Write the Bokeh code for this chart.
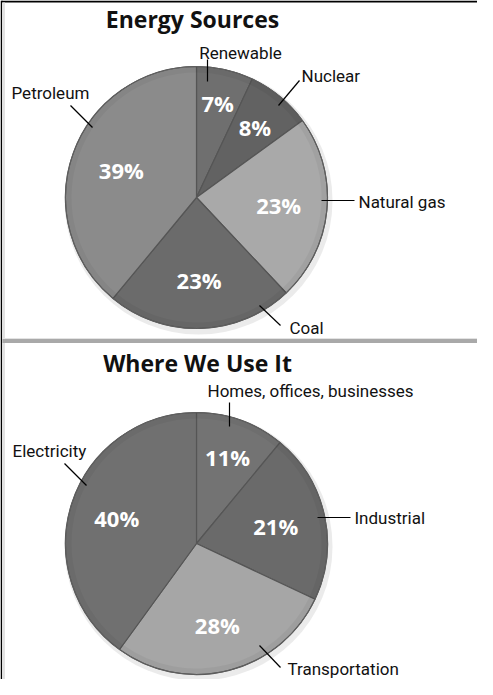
import math
from bokeh.plotting import figure
from bokeh.models import Range1d, ColumnDataSource
from bokeh.core.properties import value
from bokeh.embed import file_html
from bokeh.resources import INLINE

# ---------------- data ----------------
energy_titles = "Energy Sources"
energy_sources = ["Renewable", "Nuclear", "Natural gas", "Coal", "Petroleum"]
energy_pct = [7, 8, 23, 23, 39]
energy_colors = ["#6f6f6f", "#626262", "#a9a9a9", "#6b6b6b", "#8b8b8b"]

use_title = "Where We Use It"
use_names = ["Homes, offices, businesses", "Industrial", "Transportation", "Electricity"]
use_pct = [11, 21, 28, 40]
use_colors = ["#737373", "#6a6a6a", "#a6a6a6", "#707070"]

# ---------------- layout (page pixel coords) ----------------
W, H = 477, 679
X0, Y0 = 8, 8
R = 131

energy_center = (204, 205)
use_center = (204, 551)

energy_pct_r = [0.74, 0.70, 0.63, 0.63, 0.61]
use_pct_r = [0.70, 0.62, 0.64, 0.64]

# (text x, text y, align, leader x0, y0, x1, y1)
energy_lbl = [
    (248, 60, "center", 215, 67, 215, 89),
    (309, 83, "left", 307, 88, 286, 113),
    (366, 209, "left", 329, 208, 362, 208),
    (297, 335, "left", 267, 313, 288, 333),
    (19, 100, "left", 78, 113, 100, 135),
]
use_lbl = [
    (215, 398, "left", 237, 410, 237, 434),
    (362, 525, "left", 325, 525, 358, 525),
    (295, 676, "left", 267, 653, 288, 675),
    (20, 458, "left", 72, 471, 94, 493),
]

p = figure(width=W, height=H, output_backend="svg", toolbar_location=None,
           x_range=Range1d(X0, X0 + W), y_range=Range1d(-(Y0 + H), -Y0),
           min_border=0, background_fill_color="white", border_fill_color="white")
p.axis.visible = False
p.grid.visible = False
p.outline_line_color = None

NAME_FONT = value("Roboto")
BOLD_FONT = value("Open Sans")


def fy(y):
    return -y


def draw_pie(center, names, pcts, colors, pct_r, lbls, title, title_xy):
    cx, cy = center
    total = float(sum(pcts))
    starts, ends, mids = [], [], []
    cum = 0.0
    for v in pcts:
        a0 = cum / total
        cum += v
        a1 = cum / total
        starts.append(math.pi / 2 - a1 * 2 * math.pi)
        ends.append(math.pi / 2 - a0 * 2 * math.pi)
        mids.append(math.pi / 2 - (a0 + a1) / 2 * 2 * math.pi)
    # shadow
    p.circle(x=[cx + 2], y=[fy(cy) - 3], radius=R + 3, fill_color="#e6e6e6",
             line_color=None, fill_alpha=0.8)
    src = ColumnDataSource(dict(start=starts, end=ends, color=colors,
                                x=[cx] * len(pcts), y=[fy(cy)] * len(pcts)))
    p.wedge(x="x", y="y", radius=R, start_angle="start", end_angle="end",
            fill_color="color", line_color="#555555", line_width=1.2, source=src)
    # soft bevel rim
    p.annular_wedge(x="x", y="y", inner_radius=R - 6, outer_radius=R,
                    start_angle="start", end_angle="end", fill_color="black",
                    fill_alpha=0.045, line_color=None, source=src)
    p.circle(x=[cx], y=[fy(cy)], radius=R, fill_color=None,
             line_color="#606060", line_width=1)
    # percent labels
    px = [cx + f * R * math.cos(m) for f, m in zip(pct_r, mids)]
    py = [fy(cy) + f * R * math.sin(m) for f, m in zip(pct_r, mids)]
    p.text(x=px, y=py, text=[f"{v}%" for v in pcts], text_color="white",
           text_font=BOLD_FONT, text_font_style="bold", text_font_size="22px",
           text_align="center", text_baseline="middle")
    # category labels + leaders
    for name, (tx, ty, al, lx0, ly0, lx1, ly1) in zip(names, lbls):
        p.segment(x0=[lx0], y0=[fy(ly0)], x1=[lx1], y1=[fy(ly1)],
                  line_color="black", line_width=1.2)
        p.text(x=[tx], y=[fy(ty)], text=[name], text_color="#111111",
               text_font=NAME_FONT, text_font_size="17px",
               text_align=al, text_baseline="middle")
    # title
    p.text(x=[title_xy[0]], y=[fy(title_xy[1])], text=[title], text_color="#111111",
           text_font=BOLD_FONT, text_font_style="bold", text_font_size="23px",
           text_align="center", text_baseline="middle")


draw_pie(energy_center, energy_sources, energy_pct, energy_colors, energy_pct_r,
         energy_lbl, energy_titles, (200, 26))
draw_pie(use_center, use_names, use_pct, use_colors, use_pct_r,
         use_lbl, use_title, (205, 370))

# panel frame: black top/left border, grey separator
p.segment(x0=[X0 + 1], y0=[fy(Y0 + 1)], x1=[X0 + W], y1=[fy(Y0 + 1)],
          line_color="black", line_width=2)
p.segment(x0=[X0 + 1], y0=[fy(Y0)], x1=[X0 + 1], y1=[fy(Y0 + H)],
          line_color="black", line_width=2)
p.segment(x0=[X0 + 3], y0=[fy(Y0 + 2)], x1=[X0 + 3], y1=[fy(Y0 + H)],
          line_color="#e2e2e2", line_width=3)
p.segment(x0=[X0 + 2], y0=[fy(348.5)], x1=[X0 + W], y1=[fy(348.5)],
          line_color="#a9a9a9", line_width=4)
p.segment(x0=[X0 + 2], y0=[fy(346)], x1=[X0 + W], y1=[fy(346)],
          line_color="#e3e3e3", line_width=1)

open("out.html", "w").write(file_html(p, INLINE))
